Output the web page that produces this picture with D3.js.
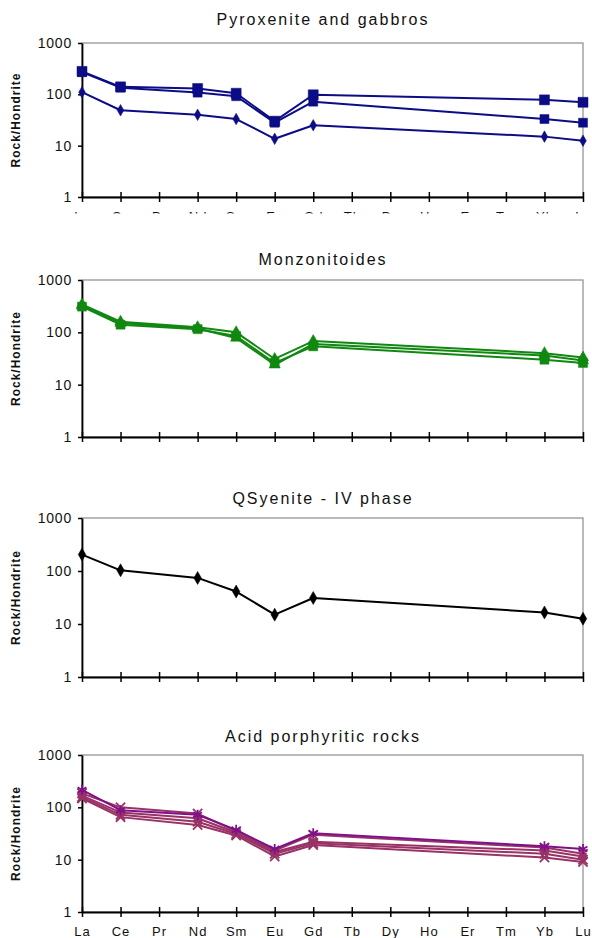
<!DOCTYPE html>
<html>
<head>
<meta charset="utf-8">
<script src="https://cdn.jsdelivr.net/npm/d3@7"></script>
<style>
  html, body { margin: 0; padding: 0; background: #fff; }
  svg { display: block; font-family: "Liberation Sans", Arial, sans-serif; }
</style>
</head>
<body>
<script>
// REE elements along the x axis (chondrite-normalised spider diagrams)
const elements = ["La","Ce","Pr","Nd","Sm","Eu","Gd","Tb","Dy","Ho","Er","Tm","Yb","Lu"];
const yTicks = [1, 10, 100, 1000];
const yTitle = "Rock/Hondrite";
const panelTitles = ["Pyroxenite and gabbros", "Monzonitoides", "QSyenite - IV phase", "Acid porphyritic rocks"];

// Pyroxenite and gabbros
const pyroxA = [280, 140, null, 130, 105, 30, 98, null, null, null, null, null, 78, 70];
const pyroxB = [270, 135, null, 108, 92, 28, 72, null, null, null, null, null, 33, 28];
const pyroxC = [110, 49, null, 40, 33, 13.6, 25, null, null, null, null, null, 15, 12.5];

// Monzonitoides
const monzA = [340, 160, null, 125, 100, 31, 68, null, null, null, null, null, 40, 33];
const monzB = [310, 140, null, 115, 85, 26, 54, null, null, null, null, null, 30, 26];
const monzC = [320, 150, null, 118, 78, 24, 60, null, null, null, null, null, 36, 29];

// Q syenite, IV phase
const qsyen = [204, 103, null, 74, 41, 15, 31, null, null, null, null, null, 16.5, 12.6];

// Acid porphyritic rocks
const acidA = [215, 88, null, 72, 37, 16, 32, null, null, null, null, null, 18, 16];
const acidB = [185, 100, null, 76, 35, 15, 30, null, null, null, null, null, 17, 13];
const acidC = [168, 80, null, 62, 33, 14, 22, null, null, null, null, null, 15, 11.5];
const acidD = [157, 72, null, 53, 31, 13, 20.5, null, null, null, null, null, 13, 10];
const acidE = [148, 65, null, 46, 29, 11.5, 19, null, null, null, null, null, 11, 9];

const W = 592, H = 938;
const plotLeft = 82, plotRight = 583;

const panels = [
  { title: panelTitles[0], titleY: 25, top: 43, bottom: 197, labels: "clipped",
    series: [
      { values: pyroxA, color: "#0c0c86", symbol: "square", size: 10 },
      { values: pyroxB, color: "#0c0c86", symbol: "square", size: 9 },
      { values: pyroxC, color: "#0c0c86", symbol: "diamond", size: 8 }
    ] },
  { title: panelTitles[1], titleY: 265, top: 280, bottom: 437, labels: "none",
    series: [
      { values: monzC, color: "#118811", symbol: "triangle", size: 10 },
      { values: monzB, color: "#118811", symbol: "square", size: 9 },
      { values: monzA, color: "#118811", symbol: "triangle", size: 10 }
    ] },
  { title: panelTitles[2], titleY: 504, top: 518, bottom: 677, labels: "none",
    series: [
      { values: qsyen, color: "#000000", symbol: "diamond", size: 9 }
    ] },
  { title: panelTitles[3], titleY: 742, top: 755, bottom: 912, labels: "full",
    series: [
      { values: acidE, color: "#993366", symbol: "times", size: 8 },
      { values: acidD, color: "#993366", symbol: "times", size: 8 },
      { values: acidC, color: "#993366", symbol: "square", size: 7 },
      { values: acidB, color: "#993366", symbol: "times", size: 8 },
      { values: acidA, color: "#80108a", symbol: "asterisk", size: 9 }
    ] }
];

const svg = d3.select("body").append("svg").attr("width", W).attr("height", H);

const x = d3.scalePoint().domain(elements).range([plotLeft, plotRight]).padding(0);

const symbolTypes = {
  square: d3.symbolSquare,
  diamond: d3.symbolDiamond,
  triangle: d3.symbolTriangle,
  times: d3.symbolTimes || d3.symbolCross,
  asterisk: d3.symbolAsterisk || d3.symbolStar
};
const strokedSymbols = new Set(["times", "asterisk"]);

panels.forEach((p, pi) => {
  const y = d3.scaleLog().domain([1, 1000]).range([p.bottom, p.top]);
  const g = svg.append("g");

  // grey frame of the plot area
  g.append("rect")
    .attr("x", plotLeft).attr("y", p.top)
    .attr("width", plotRight - plotLeft).attr("height", p.bottom - p.top)
    .attr("fill", "none").attr("stroke", "#8c8c8c").attr("stroke-width", 1.2);

  // title
  g.append("text")
    .attr("x", 323).attr("y", p.titleY)
    .attr("text-anchor", "middle")
    .attr("font-size", 16).attr("letter-spacing", 2)
    .attr("fill", "#111")
    .text(p.title);

  // y axis title
  g.append("text")
    .attr("transform", `translate(20,${(p.top + p.bottom) / 2}) rotate(-90)`)
    .attr("text-anchor", "middle")
    .attr("font-size", 12).attr("font-weight", "bold").attr("letter-spacing", 1)
    .attr("fill", "#111")
    .text(yTitle);

  // y axis
  const yAxis = g.append("g")
    .attr("transform", `translate(${plotLeft},0)`)
    .call(d3.axisLeft(y).tickValues(yTicks).tickFormat(d3.format("d"))
      .tickSize(4).tickSizeOuter(0).tickPadding(6));
  yAxis.select(".domain").attr("stroke", "#000").attr("stroke-width", 1.8);
  yAxis.selectAll(".tick line").attr("stroke", "#000").attr("stroke-width", 1.5);
  yAxis.selectAll(".tick text")
    .attr("font-family", "Liberation Sans, Arial, sans-serif")
    .attr("font-size", 14).attr("letter-spacing", 0.8).attr("fill", "#111");

  // x axis
  const xAxis = g.append("g")
    .attr("transform", `translate(0,${p.bottom})`)
    .call(d3.axisBottom(x).tickSize(5).tickSizeOuter(0).tickPadding(9)
      .tickFormat(p.labels === "none" ? "" : d => d));
  xAxis.select(".domain").attr("stroke", "#000").attr("stroke-width", 1.8);
  xAxis.selectAll(".tick line").attr("y1", -5).attr("y2", 5)
    .attr("stroke", "#000").attr("stroke-width", 1.5);
  xAxis.selectAll(".tick text")
    .attr("font-family", "Liberation Sans, Arial, sans-serif")
    .attr("font-size", 13).attr("letter-spacing", 1).attr("fill", "#111")
    .attr("y", 24).attr("dy", 0);

  if (p.labels === "clipped") {
    // only a thin strip of these labels shows below the first panel
    const clipId = "xlab-clip-" + pi;
    svg.append("clipPath").attr("id", clipId)
      .append("rect").attr("x", -40).attr("y", -10).attr("width", 80).attr("height", 26.5);
    xAxis.selectAll(".tick text").attr("clip-path", `url(#${clipId})`);
  }

  // series lines and markers
  const line = d3.line().x(d => x(d.el)).y(d => y(d.v));
  p.series.forEach(s => {
    const pts = elements.map((el, i) => ({ el, v: s.values[i] })).filter(d => d.v != null);
    g.append("path")
      .datum(pts)
      .attr("d", line)
      .attr("fill", "none")
      .attr("stroke", s.color)
      .attr("stroke-width", 2)
      .attr("stroke-linejoin", "round");

    const sym = d3.symbol().type(symbolTypes[s.symbol]).size(
      s.symbol === "square" ? s.size * s.size :
      s.symbol === "diamond" ? s.size * s.size * 0.6 :
      s.symbol === "triangle" ? s.size * s.size * 0.55 :
      s.size * s.size * 0.9);
    const stroked = strokedSymbols.has(s.symbol);
    g.selectAll(null)
      .data(pts)
      .join("path")
      .attr("transform", d => `translate(${x(d.el)},${y(d.v)})`)
      .attr("d", sym)
      .attr("fill", stroked ? "none" : s.color)
      .attr("stroke", s.color)
      .attr("stroke-width", stroked ? 1.8 : 0.5);
  });
});
</script>
</body>
</html>
